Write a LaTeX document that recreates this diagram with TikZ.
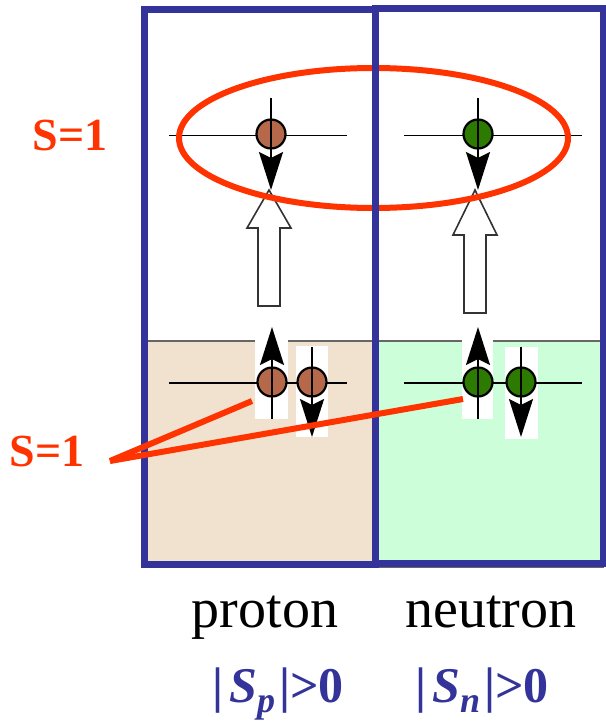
\documentclass[tikz,border=0pt]{standalone}
\usepackage{fontspec}
\setmainfont{Liberation Serif}
\usetikzlibrary{arrows.meta, positioning}

\definecolor{boxblue}{HTML}{333399}
\definecolor{spinred}{HTML}{FF3300}
\definecolor{protfill}{HTML}{F0E2CE}
\definecolor{neutfill}{HTML}{CCFFD9}
\definecolor{protball}{HTML}{B5694A}
\definecolor{neutball}{HTML}{2D7A00}

\tikzset{
  ball/.style={circle, draw=black, line width=2.2pt, minimum size=29pt, inner sep=0pt},
  level/.style={line width=1.3pt},
  spin/.style={line width=2.2pt, -{Stealth[length=38pt,width=24pt,inset=6pt]}},
  bigarrow/.style={draw=black!80, line width=1.6pt, fill=white},
  redlbl/.style={text=spinred, font=\bfseries\fontsize{46}{50}\selectfont},
  bluelbl/.style={text=boxblue, anchor=base, font=\bfseries\fontsize{50}{54}\selectfont},
  namelbl/.style={anchor=base, font=\fontsize{56}{60}\selectfont}
}

\begin{document}
\begin{tikzpicture}[x=1pt, y=-1pt]
  \useasboundingbox (0,0) rectangle (605,725);
  % filled lower parts
  \filldraw[fill=protfill, draw=black!60, line width=1.2pt] (147,341) rectangle (375,567);
  \filldraw[fill=neutfill, draw=black!60, line width=1.2pt] (375,341) rectangle (603,567);
  % white strips behind the spins
  \foreach \xa/\xb/\ya/\yb in {255/288/327/419, 296/328/346/437, 462/493/327/419, 505/538/347/439}
    \fill[white] (\xa,\ya) rectangle (\xb,\yb);
  % levels
  \foreach \y in {135.5, 383}
  {
    \draw[level] (169,\y) -- (347,\y);
    \draw[level] (404,\y) -- (582,\y);
  }
  % nucleons
  \node[ball, fill=protball] (pu) at (271,134) {};
  \node[ball, fill=neutball] (nu) at (478,134) {};
  \node[ball, fill=protball] (pa) at (272,382) {};
  \node[ball, fill=protball] (pb) at (312,382) {};
  \node[ball, fill=neutball] (na) at (478,382) {};
  \node[ball, fill=neutball] (nb) at (521,382) {};
  % spins
  \foreach \n in {pu, nu}
    \draw[spin] ([yshift=36pt]\n.center) -- ([yshift=-56pt]\n.center);
  \foreach \n in {pa, na}
    \draw[spin] ([yshift=-37pt]\n.center) -- ([yshift=55pt]\n.center);
  \foreach \n in {pb, nb}
    \draw[spin] ([yshift=35pt]\n.center) -- ([yshift=-55pt]\n.center);
  % excitation arrows
  \foreach \x/\hb/\bot in {269/228/306, 475/235/313}
    \draw[bigarrow] (\x-11,\bot) -- (\x-11,\hb) -- (\x-22,\hb) -- (\x,190)
      -- (\x+22,\hb) -- (\x+11,\hb) -- (\x+11,\bot) -- cycle;
  % pair in the upper level
  \draw[spinred, line width=6pt] (373.5,138) ellipse [x radius=194.5pt, y radius=70pt];
  % proton and neutron boxes
  \draw[boxblue, line width=7pt] (144.5,9.5) rectangle (375,564);
  \draw[boxblue, line width=7pt] (375,8.5) rectangle (603,563);
  % labels
  \node[redlbl] (stop) at (70,135) {S=1};
  \node[redlbl] (sbot) at (47,451) {S=1};
  \coordinate (fork) at (110,461);
  \draw[spinred, line width=6pt] (fork) -- ([shift={(-20pt,-19pt)}]pa.center);
  \draw[spinred, line width=6pt] (fork) -- ([shift={(-15pt,-17pt)}]na.center);
  \node[namelbl] (prot) at (265,627) {proton};
  \node[namelbl] (neut) at (491,627) {neutron};
  \node[bluelbl] (sp) at (278,702) {|\hspace{0.12em}\textit{S}\raisebox{-0.2em}{\fontsize{36}{36}\selectfont\textit{p}}\hspace{0.08em}|>0};
  \node[bluelbl] (sn) at (482,702) {|\hspace{0.12em}\textit{S}\raisebox{-0.2em}{\fontsize{36}{36}\selectfont\textit{n}}\hspace{0.08em}|>0};
\end{tikzpicture}
\end{document}
